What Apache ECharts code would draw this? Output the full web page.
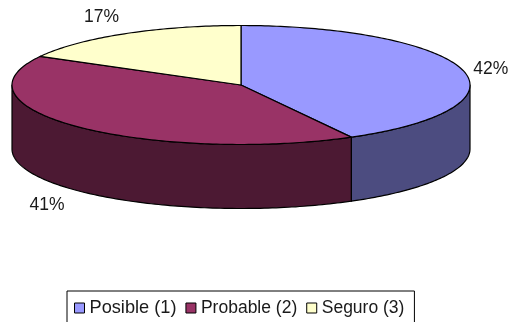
<!DOCTYPE html>
<html>
<head>
<meta charset="utf-8">
<style>html,body{margin:0;padding:0;background:#fff}#c{width:509px;height:322px}</style>
<script src="https://cdn.jsdelivr.net/npm/echarts@6/dist/echarts.min.js"></script>
</head>
<body>
<div id="c"></div>
<script>
// Answer categories and their shares, in percent
const categories = ['Posible (1)', 'Probable (2)', 'Seguro (3)'];
const shares = [42, 41, 17];

// Fill of each slice's top face and of its side wall
const topColors = ['#9999FF', '#993366', '#FFFFCC'];
const sideColors = ['#4C4C80', '#4C1933', '#808066'];

// Tilted disc geometry
const disc = { cx: 241, cy: 85, rx: 229, ry: 59.5, depth: 64 };
// Nudge of each percentage from the rim point at its slice's middle
const labelNudge = [[28, -1], [-32, 78], [-23, -17]];

const total = shares.reduce((a, b) => a + b, 0);
const startDeg = shares.map((_, i) =>
  shares.slice(0, i).reduce((a, b) => a + b, 0) / total * 360);

// Rim point, with angles measured clockwise from the top of the disc
function rim(deg, drop) {
  const t = deg * Math.PI / 180;
  return [disc.cx + disc.rx * Math.sin(t), disc.cy - disc.ry * Math.cos(t) + (drop || 0)];
}
function arc(from, to, drop) {
  const pts = [];
  const n = Math.max(2, Math.ceil(Math.abs(to - from)));
  for (let k = 0; k <= n; k++) pts.push(rim(from + (to - from) * k / n, drop));
  return pts;
}

function renderSlice(i) {
  return function (params, api) {
    const value = api.value(0);
    const a0 = startDeg[i];
    const a1 = a0 + value / total * 360;
    const lineStyle = { stroke: '#000', lineWidth: 1.2, lineJoin: 'round' };
    const children = [];

    // The wall shows only along the front half of the rim
    const w0 = Math.max(a0, 90), w1 = Math.min(a1, 270);
    if (w1 > w0) {
      children.push({
        type: 'polygon',
        z2: 1,
        shape: { points: arc(w0, w1, 0).concat(arc(w1, w0, disc.depth)) },
        style: Object.assign({ fill: sideColors[i] }, lineStyle)
      });
    }
    children.push({
      type: 'polygon',
      z2: 2,
      shape: { points: [[disc.cx, disc.cy]].concat(arc(a0, a1, 0)) },
      style: Object.assign({ fill: topColors[i] }, lineStyle)
    });

    const mid = rim((a0 + a1) / 2, 0);
    children.push({
      type: 'text',
      z2: 3,
      style: {
        x: mid[0] + labelNudge[i][0],
        y: mid[1] + labelNudge[i][1],
        text: Math.round(value / total * 100) + '%',
        font: '17.5px "Liberation Sans", Arial, sans-serif',
        fill: '#1a1a1a',
        align: 'center',
        verticalAlign: 'middle'
      }
    });
    return { type: 'group', children };
  };
}

const chart = echarts.init(document.getElementById('c'), null, { renderer: 'canvas' });
chart.setOption({
  animation: false,
  backgroundColor: '#fff',
  legend: {
    left: 67,
    top: 291,
    orient: 'horizontal',
    padding: [8, 10, 40, 7],
    itemGap: 9,
    itemWidth: 10,
    itemHeight: 10,
    icon: 'rect',
    borderColor: '#000',
    borderWidth: 1,
    backgroundColor: '#fff',
    itemStyle: { borderColor: '#000', borderWidth: 1 },
    textStyle: {
      fontFamily: '"Liberation Sans", Arial, sans-serif',
      fontSize: 17.5,
      color: '#1a1a1a',
      padding: [0, 0, 6, 0]
    },
    data: categories.map((name, i) => (i === 0
      ? { name, textStyle: { fontSize: 18.2, padding: [0, 0, 6, 0] } }
      : { name }))
  },
  series: categories.map((name, i) => ({
    type: 'custom',
    name,
    coordinateSystem: 'none',
    silent: true,
    itemStyle: { color: topColors[i] },
    renderItem: renderSlice(i),
    data: [[shares[i]]]
  }))
});
</script>
</body>
</html>
